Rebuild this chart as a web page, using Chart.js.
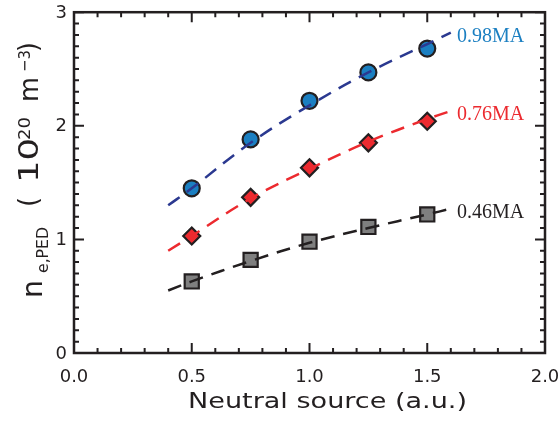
<!DOCTYPE html>
<html>
<head>
<meta charset="utf-8">
<script src="https://cdn.jsdelivr.net/npm/chart.js@4"></script>
<style>
  html, body { margin: 0; padding: 0; background: #fff; }
  #wrap { width: 560px; height: 421px; position: relative; }
</style>
</head>
<body>
<div id="wrap"><canvas id="chartCanvas"></canvas></div>
<script>
// measured points
const sourceX = [0.5, 0.75, 1.0, 1.25, 1.5];
const ne098 = [1.45, 1.88, 2.22, 2.47, 2.68];
const ne076 = [1.03, 1.37, 1.63, 1.85, 2.04];
const ne046 = [0.63, 0.82, 0.98, 1.11, 1.22];

// dashed fit curves
const fitX = [0.4, 0.5, 0.75, 1.0, 1.25, 1.5, 1.6];
const fit098 = [1.30, 1.45, 1.85, 2.18, 2.47, 2.72, 2.82];
const fit076 = [0.90, 1.03, 1.36, 1.62, 1.86, 2.06, 2.13];
const fit046 = [0.55, 0.63, 0.81, 0.97, 1.10, 1.22, 1.27];

const xTicks = [0.0, 0.5, 1.0, 1.5, 2.0];
const yTicks = [0, 1, 2, 3];
const seriesLabels = ["0.98MA", "0.76MA", "0.46MA"];

const blue = "#1b7fc1", navy = "#2b3990", red = "#ec2a2f", dark = "#231f20";
const sans = '"DejaVu Sans"';

const pts = (xs, ys) => xs.map((x, i) => ({ x: x, y: ys[i] }));

const fitLine = (ys, color) => ({
  data: pts(fitX, ys), showLine: true, borderColor: color, borderWidth: 2.5,
  borderDash: [14, 9], pointRadius: 0, fill: false, tension: 0.4
});
const markers = (ys, style, fillColor, r) => ({
  data: pts(sourceX, ys), showLine: false, pointStyle: style, pointRadius: r,
  pointBackgroundColor: fillColor, pointBorderColor: dark, pointBorderWidth: 2.2
});

// text squeezed/stretched to a given length, optionally rotated
function fitText(ctx, text, size, x, y, len, rot) {
  ctx.save();
  ctx.font = size + "px " + sans;
  ctx.translate(x, y);
  if (rot) ctx.rotate(-Math.PI / 2);
  ctx.scale(len / ctx.measureText(text).width, 1);
  ctx.fillText(text, 0, 0);
  ctx.restore();
}

// frame, inward ticks, labels and titles
const decor = {
  id: "decor",
  afterDatasetsDraw(chart) {
    const { ctx, chartArea: a, scales: { x, y } } = chart;
    ctx.save();
    ctx.strokeStyle = dark;
    ctx.lineWidth = 2;
    for (let v = 0; v <= 20; v++) {
      const px = x.getPixelForValue(v / 10);
      const len = v % 5 === 0 ? 10 : 5;
      ctx.beginPath();
      ctx.moveTo(px, a.bottom); ctx.lineTo(px, a.bottom - len);
      ctx.moveTo(px, a.top); ctx.lineTo(px, a.top + len);
      ctx.stroke();
    }
    for (let v = 0; v <= 30; v++) {
      const py = y.getPixelForValue(v / 10);
      const len = v % 10 === 0 ? 10 : 5;
      ctx.beginPath();
      ctx.moveTo(a.left, py); ctx.lineTo(a.left + len, py);
      ctx.moveTo(a.right, py); ctx.lineTo(a.right - len, py);
      ctx.stroke();
    }
    ctx.lineWidth = 2.5;
    ctx.strokeRect(a.left, a.top, a.right - a.left, a.bottom - a.top);

    // tick labels
    ctx.fillStyle = dark;
    ctx.font = "18px " + sans;
    ctx.textBaseline = "middle";
    ctx.textAlign = "center";
    xTicks.forEach(v => ctx.fillText(v.toFixed(1), x.getPixelForValue(v), a.bottom + 24));
    ctx.textAlign = "right";
    yTicks.forEach(v => ctx.fillText(String(v), 67, y.getPixelForValue(v) + 1));

    // curve labels
    ctx.font = '20px "Liberation Serif"';
    ctx.textAlign = "left";
    const ends = [fit098, fit076, fit046];
    const cols = [blue, red, dark];
    ends.forEach((ys, i) => {
      ctx.fillStyle = cols[i];
      ctx.fillText(seriesLabels[i], 457, y.getPixelForValue(ys[ys.length - 1]) + 4);
    });

    // axis titles
    ctx.fillStyle = dark;
    ctx.textBaseline = "alphabetic";
    fitText(ctx, "Neutral source (a.u.)", 21, 188, 408, 279, false);

    // y title pieces: text, size, baseline x, start y, length
    const yParts = [
      ["n", 28, 42, 298, 18],
      ["e,PED", 16, 48, 273, 46],
      ["(", 26, 37, 207, 10],
      ["10", 26, 38, 183, 45],
      ["20", 16, 30, 140, 23],
      ["m", 26, 38, 102, 25],
      ["\u22123", 16, 30, 72, 22],
      [")", 26, 37, 52, 10]
    ];
    yParts.forEach(p => fitText(ctx, p[0], p[1], p[2], p[3], p[4], true));
    ctx.restore();
  }
};

new Chart(document.getElementById("chartCanvas"), {
  type: "scatter",
  data: {
    datasets: [
      fitLine(fit098, navy), fitLine(fit076, red), fitLine(fit046, dark),
      markers(ne098, "circle", blue, 8),
      markers(ne076, "rectRot", red, 8.5),
      markers(ne046, "rect", "#7f7f7f", 10)
    ]
  },
  options: {
    responsive: true,
    maintainAspectRatio: false,
    animation: false,
    layout: { padding: { top: 7, right: 15, left: 0, bottom: 0 } },
    plugins: { legend: { display: false }, tooltip: { enabled: false } },
    scales: {
      x: {
        type: "linear", min: 0, max: 2,
        afterFit: s => { s.height = 68; },
        grid: { display: false },
        border: { display: false },
        ticks: { display: false }
      },
      y: {
        type: "linear", min: 0, max: 3,
        afterFit: s => { s.width = 74; },
        grid: { display: false },
        border: { display: false },
        ticks: { display: false }
      }
    }
  },
  plugins: [decor]
});
</script>
</body>
</html>
